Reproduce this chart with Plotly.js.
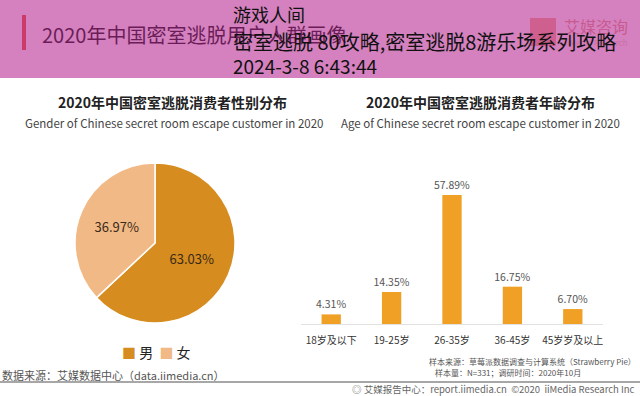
<!DOCTYPE html>
<html>
<head>
<meta charset="utf-8">
<script src="https://cdn.plot.ly/plotly-3.0.1.min.js"></script>
<style>html,body{margin:0;padding:0;background:#fff;}#chart{width:640px;height:396px;}</style>
</head>
<body>
<div id="chart"></div>
<script>
// ---- data ----
const genderLabels = ["男", "女"];
const genderValues = [63.03, 36.97];
const genderColors = ["#d68c1e", "#f1b985"];

const ageCategories = ["18岁及以下", "19-25岁", "26-35岁", "36-45岁", "45岁岁及以上"];
const ageValues = [4.31, 14.35, 57.89, 16.75, 6.70];

const pageTitle = "2020年中国密室逃脱用户人群画像";
const leftTitle = "2020年中国密室逃脱消费者性别分布";
const leftSub = "Gender of Chinese secret room escape customer in 2020";
const rightTitle = "2020年中国密室逃脱消费者年龄分布";
const rightSub = "Age of Chinese secret room escape customer in 2020";
const overlayLines = ["游戏人间", "密室逃脱 80攻略,密室逃脱8游乐场系列攻略", "2024-3-8 6:43:44"];

const W = 640, H = 396;
const px = x => x / W;
const py = y => 1 - y / H;
const CJK = '"Noto Sans CJK SC", "Noto Sans", sans-serif';

const pie = {
  type: "pie",
  labels: genderLabels,
  values: genderValues,
  marker: {colors: genderColors, line: {color: "#ffffff", width: 1.5}},
  sort: false,
  direction: "clockwise",
  rotation: 0,
  textinfo: "text",
  text: genderValues.map(v => v.toFixed(2) + "%"),
  textposition: "inside",
  insidetextorientation: "horizontal",
  textfont: {family: CJK, size: 13, color: "#3a2a1a"},
  domain: {x: [px(75), px(235)], y: [py(323), py(163)]},
  hoverinfo: "none",
  showlegend: false
};

const bar = {
  type: "bar",
  x: ageCategories,
  y: ageValues,
  marker: {color: "#f0a024"},
  text: ageValues.map(v => v.toFixed(2) + "%"),
  textposition: "outside",
  constraintext: "none",
  textfont: {family: CJK, size: 10.5, color: "#555"},
  cliponaxis: false,
  xaxis: "x", yaxis: "y",
  hoverinfo: "none",
  showlegend: false
};

const annotations = [
  {text: pageTitle, x: px(40), y: py(34), xanchor: "left", yanchor: "middle", font: {family: CJK, size: 20, color: "#6b1d58"}},
  {text: "艾媒咨询", x: px(562), y: py(26), xanchor: "left", yanchor: "middle", font: {family: CJK, size: 16, color: "#c85a90"}},
  {text: "iiMedia Research", x: px(563), y: py(42), xanchor: "left", yanchor: "middle", font: {family: CJK, size: 8, color: "#c870a5"}},
  {text: leftTitle, x: px(172), y: py(102), xanchor: "center", yanchor: "middle", font: {family: CJK, size: 14, color: "#222", weight: "bold"}},
  {text: leftSub, x: px(174), y: py(123), xanchor: "center", yanchor: "middle", font: {family: CJK, size: 11.5, color: "#444"}},
  {text: rightTitle, x: px(480), y: py(102), xanchor: "center", yanchor: "middle", font: {family: CJK, size: 14, color: "#222", weight: "bold"}},
  {text: rightSub, x: px(480), y: py(123), xanchor: "center", yanchor: "middle", font: {family: CJK, size: 11.5, color: "#444"}},
  {text: "<span style='color:" + genderColors[0] + "'>■</span> " + genderLabels[0] + "  <span style='color:" + genderColors[1] + "'>■</span> " + genderLabels[1],
   x: px(156), y: py(352), xanchor: "center", yanchor: "middle", font: {family: CJK, size: 14, color: "#222"}},
  {text: "数据来源：艾媒数据中心（data.iimedia.cn）", x: px(0), y: py(375), xanchor: "left", yanchor: "middle", font: {family: CJK, size: 11, color: "#555"}},
  {text: "样本来源：草莓派数据调查与计算系统（Strawberry Pie）", x: px(638), y: py(361), xanchor: "right", yanchor: "middle", font: {family: CJK, size: 8, color: "#555"}},
  {text: "样本量：N=331；调研时间：2020年10月", x: px(433), y: py(372), xanchor: "left", yanchor: "middle", font: {family: CJK, size: 8, color: "#555"}},
  {text: "◎ 艾媒报告中心：report.iimedia.cn  ©2020  iiMedia Research Inc", x: px(637), y: py(389), xanchor: "right", yanchor: "middle", font: {family: CJK, size: 9.5, color: "#666"}},
  {text: overlayLines[0], x: px(231), y: py(14), xanchor: "left", yanchor: "middle", font: {family: CJK, size: 18, color: "#111"}},
  {text: overlayLines[1], x: px(231), y: py(41), xanchor: "left", yanchor: "middle", font: {family: CJK, size: 20, color: "#111"}},
  {text: overlayLines[2], x: px(231), y: py(65), xanchor: "left", yanchor: "middle", font: {family: CJK, size: 19, color: "#111"}}
].map(a => Object.assign({xref: "paper", yref: "paper", showarrow: false}, a));

const shapes = [
  {type: "rect", xref: "paper", yref: "paper", x0: 0, x1: 1, y0: py(78), y1: 1, fillcolor: "#d581bf", line: {width: 0}, layer: "below"},
  {type: "rect", xref: "paper", yref: "paper", x0: px(22), x1: px(26), y0: py(50), y1: py(15), fillcolor: "#cc3a6a", line: {width: 0}, layer: "below"},
  {type: "rect", xref: "paper", yref: "paper", x0: px(530), x1: px(556), y0: py(46), y1: py(18), fillcolor: "#cf5f8e", line: {width: 0}, layer: "below"},
  {type: "line", xref: "paper", yref: "paper", x0: 0, x1: 1, y0: py(382), y1: py(382), line: {color: "#8a8a8a", width: 1.5}}
];

const layout = {
  width: W, height: H,
  margin: {l: 0, r: 0, t: 0, b: 0},
  paper_bgcolor: "#ffffff",
  plot_bgcolor: "rgba(0,0,0,0)",
  showlegend: false,
  bargap: 0.68,
  xaxis: {domain: [px(301), px(603)], showline: true, linecolor: "#e2e2e2", linewidth: 1,
          ticks: "", showgrid: false, zeroline: false, fixedrange: true,
          tickfont: {family: CJK, size: 10, color: "#333"}, ticklabelstandoff: 7},
  yaxis: {domain: [py(324), py(168)], range: [0, 70], visible: false, showgrid: false, zeroline: false, fixedrange: true},
  annotations: annotations,
  shapes: shapes,
  font: {family: CJK}
};

Plotly.newPlot("chart", [pie, bar], layout, {staticPlot: true, displayModeBar: false});
</script>
</body>
</html>
